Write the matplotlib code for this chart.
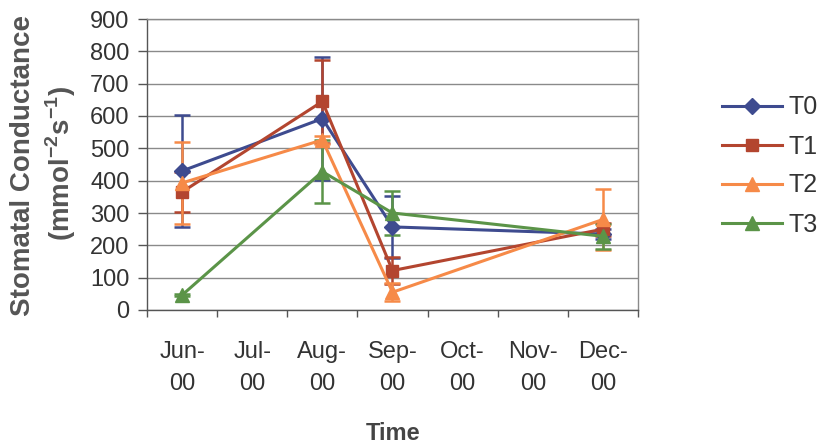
import matplotlib
matplotlib.use("Agg")
import matplotlib.pyplot as plt
import numpy as np

plt.rcParams['font.family'] = ['Liberation Sans', 'DejaVu Sans']

# ---- data ----
months = ['Jun-\n00', 'Jul-\n00', 'Aug-\n00', 'Sep-\n00', 'Oct-\n00', 'Nov-\n00', 'Dec-\n00']
sample_months = [0, 2, 3, 6]          # Jun, Aug, Sep, Dec
series_names = ['T0', 'T1', 'T2', 'T3']
T0 = [430, 592, 257, 235]
T0_err = [172, 190, 95, 15]
T1 = [365, 645, 122, 250]
T1_err = [61, 128, 42, 20]
T2 = [393, 526, 55, 280]
T2_err = [128, 12, 28, 95]
T3 = [46, 428, 300, 228]
T3_err = [4, 98, 68, 38]
yticks = [0, 100, 200, 300, 400, 500, 600, 700, 800, 900]

colors = ['#3E4B8F', '#B3452F', '#F68A48', '#5B9448']
markers = ['D', 's', '^', '^']
msizes = [8, 9, 10, 10]

fig = plt.figure(figsize=(8.2, 4.46), dpi=100)
ax = fig.add_axes([147/820, 1-310/446, (638-147)/820, (310-19)/446])

vals = [T0, T1, T2, T3]
errs = [T0_err, T1_err, T2_err, T3_err]
handles = []
for name, v, e, c, m, ms in zip(series_names, vals, errs, colors, markers, msizes):
    ax.errorbar(sample_months, v, yerr=e, color=c, ecolor=c, elinewidth=1.8,
                capsize=6, capthick=1.8, linestyle='none', zorder=3)
    h, = ax.plot(sample_months, v, color=c, lw=2.2, marker=m, markersize=ms,
                 markeredgecolor=c, zorder=4, label=name)
    handles.append(h)

ax.set_xlim(-0.5, 6.5)
ax.set_ylim(0, 900)
ax.set_yticks(yticks)
ax.set_xticks(range(len(months)))
ax.set_xticklabels(months, linespacing=1.6)
ax.set_xticks(np.arange(-0.5, 6.6, 1.0), minor=True)
ax.tick_params(axis='x', which='major', length=0, pad=22, labelsize=17, colors='#333333')
ax.tick_params(axis='x', which='minor', length=5, width=1, color='#555555', direction='out')
ax.tick_params(axis='y', length=6.5, width=1, color='#555555', direction='out', labelsize=17,
               labelcolor='#333333', pad=6)
ax.yaxis.grid(True, color='#8a8a8a', lw=1)
ax.set_axisbelow(True)
for sp in ax.spines.values():
    sp.set_color('#8a8a8a')
    sp.set_linewidth(1)
ax.spines['left'].set_color('#555555')
ax.spines['bottom'].set_color('#555555')

fig.text(23/820, 1-166/446, 'Stomatal Conductance', rotation=90, ha='center', va='center',
         fontsize=20, fontweight='bold', color='#555555')
fig.text(61/820, 1-163/446, '(mmol$^{\\mathregular{-2}}$s$^{\\mathregular{-1}}$)', rotation=90,
         ha='center', va='center', fontsize=20, fontweight='bold', color='#555555')
fig.text(393/820, 1-433/446, 'Time', ha='center', va='center',
         fontsize=17, fontweight='bold', color='#444444')

fig.legend(handles=handles, loc='center left', bbox_to_anchor=(722/820, 1-166/446),
           frameon=False, fontsize=18, handlelength=2.4, handletextpad=0.25,
           labelspacing=0.6, borderpad=0, borderaxespad=0,
           labelcolor='#333333')

fig.savefig('out.png', dpi=100)
